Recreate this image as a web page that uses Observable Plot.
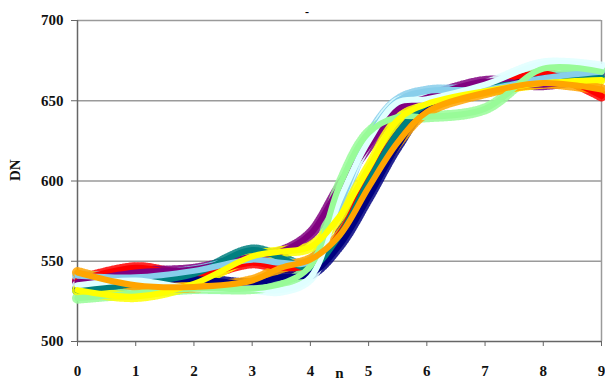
<!DOCTYPE html>
<html>
<head>
<meta charset="utf-8">
<script src="https://cdn.jsdelivr.net/npm/d3@7"></script>
<script src="https://cdn.jsdelivr.net/npm/@observablehq/plot@0.6"></script>
<style>
  html, body { margin: 0; padding: 0; background: #fff; }
  #chart { position: relative; width: 605px; height: 386px; }
  #title { position: absolute; left: 305px; top: 5px; font: bold 12px "Liberation Serif", serif; }
</style>
</head>
<body>
<div id="chart"><div id="title">-</div></div>
<script>
const n = [0, 1, 2, 3, 3.5, 4, 4.5, 5, 5.5, 6, 7, 8, 9];
const xTicks = [0, 1, 2, 3, 4, 5, 6, 7, 8, 9];
const yTicks = [500, 550, 600, 650, 700];

const seriesNames  = ["red", "navy", "purple", "teal", "skyblue", "lightcyan", "palegreen", "yellow", "orange"];
const seriesColors = ["#ff0000", "#000080", "#800080", "#008080", "#1ec8f0", "#c4fbfb", "#bff5c4", "#ffff00", "#ff9900"];

const red       = [538, 546, 541, 549, 546, 548, 567, 602, 630, 648, 658, 667, 653];
const navy      = [533, 537, 539, 536, 540, 542, 560, 590, 622, 646, 657, 664, 667];
const purple    = [537, 543, 545, 553, 556, 567, 596, 622, 645, 652, 662, 660, 666];
const teal      = [532, 536, 542, 557, 552, 546, 566, 600, 630, 648, 658, 662, 665];
const skyblue   = [541, 540, 544, 551, 549, 550, 585, 627, 650, 656, 657, 664, 668];
const lightcyan = [535, 538, 533, 533, 532, 540, 588, 625, 649, 651, 660, 673, 671];
const palegreen = [527, 530, 533, 533, 536, 547, 597, 630, 640, 640, 645, 670, 668];
const yellow    = [532, 528, 536, 553, 556, 559, 578, 608, 638, 648, 656, 661, 663];
const orange    = [543, 535, 534, 538, 546, 551, 566, 596, 624, 643, 655, 661, 657];

const seriesValues = [red, navy, purple, teal, skyblue, lightcyan, palegreen, yellow, orange];

const rows = [];
seriesNames.forEach((name, i) => {
  n.forEach((x, j) => rows.push({series: name, n: x, DN: seriesValues[i][j]}));
});

const font = '"Liberation Serif", "DejaVu Serif", serif';

const plot = Plot.plot({
  width: 605,
  height: 386,
  marginLeft: 77,
  marginRight: 4,
  marginTop: 20,
  marginBottom: 45,
  style: {fontFamily: font, fontSize: "15px", fontWeight: "bold", color: "#111", overflow: "visible"},
  x: {domain: [0, 9]},
  y: {domain: [500, 700]},
  color: {domain: seriesNames, range: seriesColors},
  marks: [
    Plot.gridY(yTicks.slice(1), {stroke: "#9a9a9a", strokeOpacity: 1, strokeWidth: 1.5}),
    Plot.ruleX([9], {stroke: "#9a9a9a", strokeWidth: 1.5}),
    Plot.ruleY([500], {stroke: "#666", strokeWidth: 1.5}),
    Plot.ruleX([0], {stroke: "#666", strokeWidth: 1.5}),
    Plot.axisY({ticks: yTicks, tickSize: 6, tickPadding: 8, label: null, stroke: "#666"}),
    Plot.axisX({ticks: xTicks, tickSize: 5, tickPadding: 19, label: null, stroke: "#666"}),
    Plot.text(["DN"], {frameAnchor: "left", dx: -62, rotate: -90, fontSize: 15, fontWeight: "bold"}),
    Plot.text(["n"], {frameAnchor: "bottom", dy: 36, fontSize: 15, fontWeight: "bold"}),
    Plot.line(rows, {x: "n", y: "DN", z: "series", stroke: "series", strokeWidth: 11, strokeDasharray: "1.2,1.6", curve: "catmull-rom", strokeOpacity: 0.85}),
    Plot.line(rows, {x: "n", y: "DN", z: "series", stroke: "series", strokeWidth: 6, curve: "catmull-rom"})
  ]
});
document.getElementById("chart").appendChild(plot);
</script>
</body>
</html>
